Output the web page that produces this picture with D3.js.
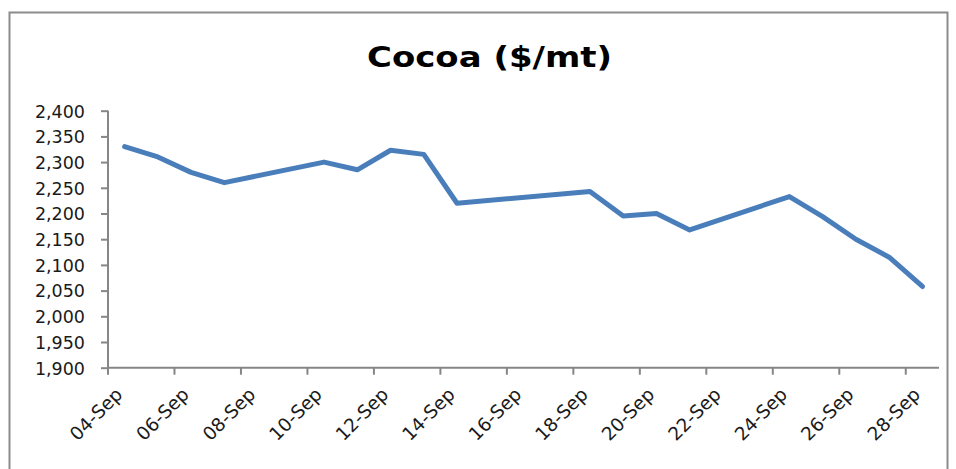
<!DOCTYPE html>
<html>
<head>
<meta charset="utf-8">
<script src="https://cdn.jsdelivr.net/npm/d3@7"></script>
<style>
  html, body { margin: 0; padding: 0; background: #fff; }
  svg { display: block; }
  text { font-family: "Century Gothic", "DejaVu Sans", sans-serif; fill: #1a1a1a; }
</style>
</head>
<body>
<svg id="chart"></svg>
<script>
// every calendar day on the axis (category slots)
const DAYS = ["04-Sep","05-Sep","06-Sep","07-Sep","08-Sep","09-Sep","10-Sep","11-Sep",
              "12-Sep","13-Sep","14-Sep","15-Sep","16-Sep","17-Sep","18-Sep","19-Sep",
              "20-Sep","21-Sep","22-Sep","23-Sep","24-Sep","25-Sep","26-Sep","27-Sep","28-Sep"];
// trading days that carry a price
const DATES = ["04-Sep","05-Sep","06-Sep","07-Sep","10-Sep","11-Sep","12-Sep","13-Sep","14-Sep",
               "18-Sep","19-Sep","20-Sep","21-Sep","24-Sep","25-Sep","26-Sep","27-Sep","28-Sep"];
const PRICES = [2330, 2310, 2280, 2260, 2300, 2285, 2323, 2315, 2220,
                2243, 2195, 2200, 2168, 2233, 2194, 2150, 2115, 2058];
const Y_TICKS = [1900, 1950, 2000, 2050, 2100, 2150, 2200, 2250, 2300, 2350, 2400];
const LABEL_DAYS = DAYS.filter((d, i) => i % 2 === 0);

const W = 956, H = 469;
const X0 = 108, X1 = 939, Y0 = 367.7, Y1 = 110.7;

const svg = d3.select("#chart").attr("width", W).attr("height", H);

svg.append("rect")
  .attr("x", 9.5).attr("y", 12.5)
  .attr("width", 938).attr("height", 480)
  .attr("fill", "none").attr("stroke", "#8c8c8c").attr("stroke-width", 2);

const x = d3.scaleBand().domain(DAYS).range([X0, X1]).padding(0);
const y = d3.scaleLinear().domain([1900, 2400]).range([Y0, Y1]);

svg.append("text")
  .attr("x", 489.5).attr("y", 67)
  .attr("text-anchor", "middle")
  .attr("font-size", 29).attr("font-weight", "bold")
  .attr("textLength", 245).attr("lengthAdjust", "spacingAndGlyphs")
  .style("fill", "#000")
  .text("Cocoa ($/mt)");

// y axis
const gy = svg.append("g").attr("transform", "translate(" + X0 + ",0)")
  .call(d3.axisLeft(y).tickValues(Y_TICKS).tickFormat(d3.format(",")).tickSize(7).tickPadding(16));
gy.selectAll("path, line").attr("stroke", "#868686").attr("stroke-width", 2);
gy.select(".domain").attr("d", "M0," + Y1 + "V" + Y0);
gy.selectAll("text").attr("font-size", 17.5).attr("dy", "0.36em").attr("font-family", null);

// x axis
const gx = svg.append("g").attr("transform", "translate(0," + Y0 + ")");
gx.append("line").attr("x1", X0).attr("x2", X1)
  .attr("stroke", "#868686").attr("stroke-width", 2);
gx.selectAll("line.tick").data(LABEL_DAYS).join("line")
  .attr("class", "tick")
  .attr("x1", d => x(d)).attr("x2", d => x(d))
  .attr("y1", 0).attr("y2", 7)
  .attr("stroke", "#868686").attr("stroke-width", 2);
gx.selectAll("text").data(LABEL_DAYS).join("text")
  .attr("transform", d => "translate(" + (x(d) + x.bandwidth() / 2 - 1) + ",28) rotate(-45)")
  .attr("text-anchor", "end")
  .attr("font-size", 18.5)
  .text(d => d);

// price line
const pts = DATES.map((d, i) => ({ d: d, v: PRICES[i] }));
const line = d3.line()
  .x(p => x(p.d) + x.bandwidth() / 2)
  .y(p => y(p.v));

svg.append("path")
  .datum(pts)
  .attr("d", line)
  .attr("fill", "none")
  .attr("stroke", "#4a7ebb")
  .attr("stroke-width", 5)
  .attr("stroke-linejoin", "round")
  .attr("stroke-linecap", "round");
</script>
</body>
</html>
